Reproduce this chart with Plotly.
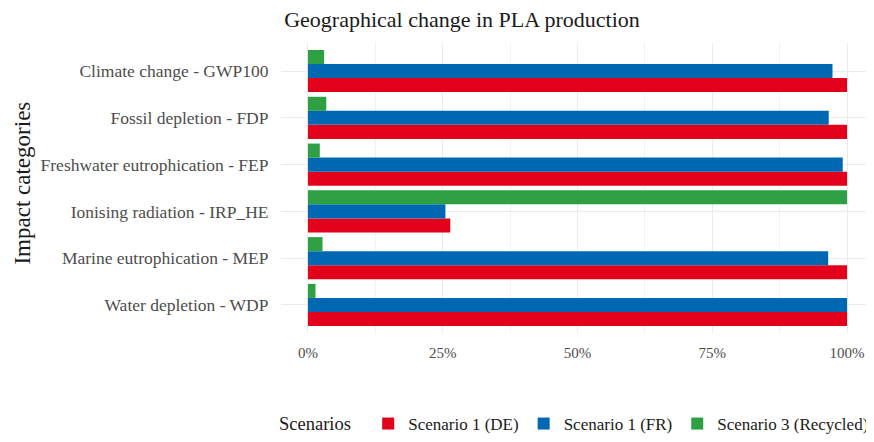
import plotly.graph_objects as go

categories = [
    "Climate change - GWP100",
    "Fossil depletion - FDP",
    "Freshwater eutrophication - FEP",
    "Ionising radiation - IRP_HE",
    "Marine eutrophication - MEP",
    "Water depletion - WDP",
]
scenarios = ["Scenario 1 (DE)", "Scenario 1 (FR)", "Scenario 3 (Recycled)"]
values_de = [1.0, 1.0, 1.0, 0.264, 1.0, 1.0]
values_fr = [0.973, 0.966, 0.992, 0.255, 0.965, 1.0]
values_rec = [0.030, 0.034, 0.022, 1.0, 0.027, 0.014]
x_tick_vals = [0, 0.25, 0.5, 0.75, 1.0]
x_tick_labels = ["0%", "25%", "50%", "75%", "100%"]
colors = ["#E2001A", "#0068B2", "#2EA043"]

FONT = "Liberation Serif"
OFF = 8  # page body margin
W, H = 874 - OFF, 442 - OFF
ML, MT = 281 - OFF, 43 - OFF
MR = 0
MB = H - (336 - OFF)
PW = W - ML - MR
PH = H - MT - MB

fig = go.Figure()
for name, vals, col in zip(scenarios, [values_de, values_fr, values_rec], colors):
    fig.add_trace(go.Bar(
        y=categories, x=vals, name=name, orientation="h",
        marker=dict(color=col, line=dict(width=0)),
    ))

fig.update_layout(
    width=W, height=H,
    margin=dict(l=ML, r=MR, t=MT, b=MB, pad=0),
    paper_bgcolor="white", plot_bgcolor="white",
    barmode="group", bargap=0.1, bargroupgap=0,
    font=dict(family=FONT, color="#4d4d4d"),
    title=dict(
        text="Geographical change in PLA production",
        font=dict(family=FONT, size=22, color="#1a1a1a"),
        xref="container", x=(462 - OFF) / W, xanchor="center",
        yref="container", y=1 - (19 - OFF) / H, yanchor="middle",
    ),
    legend=dict(
        orientation="h",
        x=0, xanchor="left",
        y=(PH - (428 - 43)) / PH, yanchor="middle",
        font=dict(family=FONT, size=17, color="#1a1a1a"),
        title=dict(text="Scenarios\u00a0\u00a0", font=dict(family=FONT, size=18.5, color="#1a1a1a"), side="left"),
        traceorder="normal",
    ),
    annotations=[dict(
        text="Impact categories", textangle=-90,
        xref="paper", x=(23 - 281) / PW, xanchor="center",
        yref="paper", y=(336 - 185) / PH, yanchor="middle",
        showarrow=False, font=dict(family=FONT, size=23, color="#1a1a1a"),
    )],
)

fig.update_xaxes(
    range=[-0.05, 1.05],
    tickvals=x_tick_vals, ticktext=x_tick_labels,
    tickfont=dict(family=FONT, size=15, color="#4d4d4d"),
    ticks="outside", ticklen=6, tickcolor="rgba(0,0,0,0)",
    showgrid=True, gridcolor="#ebebeb", gridwidth=1,
    minor=dict(tickvals=[0.125, 0.375, 0.625, 0.875], showgrid=True, gridcolor="#f2f2f2", gridwidth=1),
    zeroline=False, showline=False, fixedrange=True,
)
fig.update_yaxes(
    categoryorder="array", categoryarray=list(reversed(categories)),
    range=[-0.6, len(categories) - 0.4],
    tickfont=dict(family=FONT, size=17.5, color="#4d4d4d"),
    ticks="outside", ticklen=8, tickcolor="rgba(0,0,0,0)",
    showgrid=True, gridcolor="#ebebeb", gridwidth=1,
    zeroline=False, showline=False, fixedrange=True,
)

fig.write_html("out.html")
